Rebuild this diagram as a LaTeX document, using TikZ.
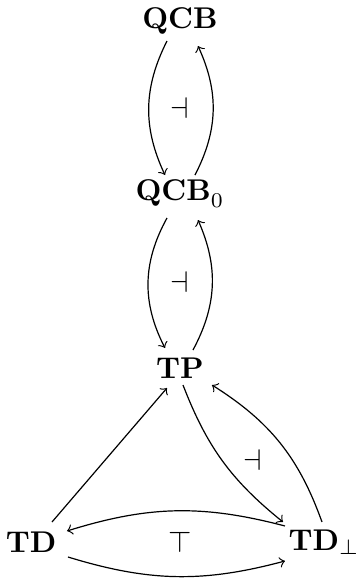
\documentclass[tikz,border=0pt]{standalone}
\usetikzlibrary{calc}
\begin{document}
\begin{tikzpicture}[x=0.3333pt,y=0.3333pt,
  obj/.style={inner sep=0pt},
  arr/.style={->,line width=0.4pt},
  lab/.style={inner sep=0pt}]
\useasboundingbox (0,0) rectangle (356,578);
\node[obj] (qcb) at (180,557) {$\mathbf{QCB}$};
\node[obj] (qcb0) at (180,384) {$\mathbf{QCB}_0$};
\node[obj] (tp) at (180,210) {$\mathbf{TP}$};
\node[obj] (td) at (31,36) {$\mathbf{TD}$};
\node[obj] (tdb) at (324,36) {$\mathbf{TD}_\bot$};
\node[lab] (l1) at (180,470) {$\dashv$};
\node[lab] (l2) at (180,296) {$\dashv$};
\node[lab] (l3) at (253,118) {$\dashv$};
\node[lab] (l4) at (180,36) {$\top$};
% QCB <-> QCB0
\draw[arr] ($(qcb)+(-13,-20)$) to[bend right=26] ($(qcb0)+(-15,19)$);
\draw[arr] ($(qcb0)+(15,19)$) to[bend right=26] ($(qcb)+(18,-25)$);
% QCB0 <-> TP
\draw[arr] ($(qcb0)+(-13,-24)$) to[bend right=28] ($(tp)+(-15,20)$);
\draw[arr] ($(tp)+(13,18)$) to[bend right=26] ($(qcb0)+(18,-26)$);
% triangle
\draw[arr] ($(td)+(21,20)$) -- ($(tp)+(-13,-20)$);
\draw[arr] ($(tp)+(3,-17)$) to[bend right=15] ($(tdb)+(-41,20)$);
\draw[arr] ($(tdb)+(-2,20)$) to[bend right=19] ($(tp)+(32,-17)$);
\draw[arr] ($(tdb)+(-39,16)$) to[bend right=16] ($(td)+(36,11)$);
\draw[arr] ($(td)+(37,-15)$) to[bend right=16] ($(tdb)+(-39,-19)$);
\end{tikzpicture}
\end{document}
